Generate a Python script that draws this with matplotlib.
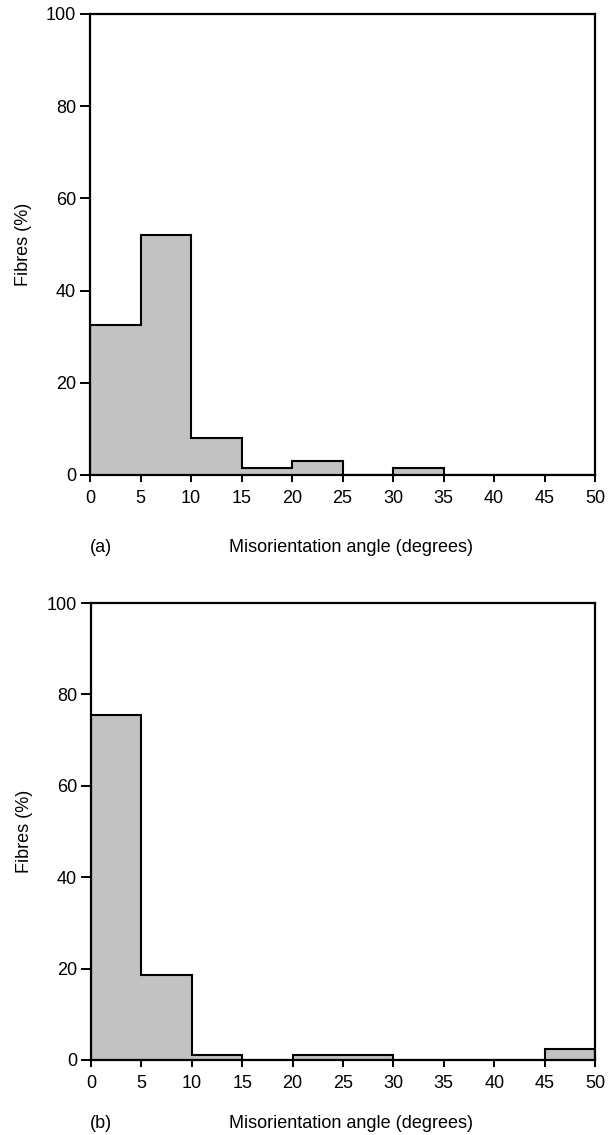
"""
Misorientation angle histograms, panels (a) and (b).
"""

import matplotlib
matplotlib.use("Agg")
import matplotlib.pyplot as plt
import numpy as np

bin_edges = [0, 5, 10, 15, 20, 25, 30, 35, 40, 45, 50]
fibres_a = [32.5, 52.0, 8.0, 1.6, 3.0, 0.0, 1.5, 0.0, 0.0, 0.0]
fibres_b = [75.5, 18.5, 1.2, 0.0, 1.2, 1.2, 0.0, 0.0, 0.0, 2.3]
x_ticks = [0, 5, 10, 15, 20, 25, 30, 35, 40, 45, 50]
y_ticks = [0, 20, 40, 60, 80, 100]
panel_labels = ["(a)", "(b)"]
x_label = "Misorientation angle (degrees)"
y_label = "Fibres (%)"

plt.rcParams.update({
    "font.family": ["Liberation Sans", "DejaVu Sans"],
    "font.size": 13,
})

W, H = 608, 1135
fig = plt.figure(figsize=(W / 100, H / 100), dpi=100)


def px_axes(left, top, right, bottom):
    return fig.add_axes([left / W, 1 - bottom / H, (right - left) / W, (bottom - top) / H])


def draw_panel(ax, values, label, label_y):
    # shaded histogram with a single step outline (no lines between bins)
    ax.stairs(values, bin_edges, fill=True, color="#c2c2c2", linewidth=0)
    ax.stairs(values, bin_edges, color="black", linewidth=1.5, baseline=0)
    ax.set_xlim(0, 50)
    ax.set_ylim(0, 100)
    ax.set_xticks(x_ticks)
    ax.set_yticks(y_ticks)
    for s in ax.spines.values():
        s.set_linewidth(1.6)
    ax.tick_params(axis="both", direction="out", width=1.4, labelsize=13)
    ax.tick_params(axis="x", length=5, pad=6)
    ax.tick_params(axis="y", length=7, pad=3)
    ax.set_ylabel(y_label, fontsize=13, labelpad=10)
    fig.text(351 / W, 1 - label_y / H, x_label, ha="center", va="center", fontsize=13)
    fig.text(90 / W, 1 - label_y / H, label, ha="left", va="center", fontsize=13)


ax_a = px_axes(90, 14, 595, 475)
draw_panel(ax_a, fibres_a, panel_labels[0], 548)

ax_b = px_axes(91, 603, 595, 1060)
draw_panel(ax_b, fibres_b, panel_labels[1], 1124)

fig.savefig("out.png", dpi=100)
plt.close(fig)
